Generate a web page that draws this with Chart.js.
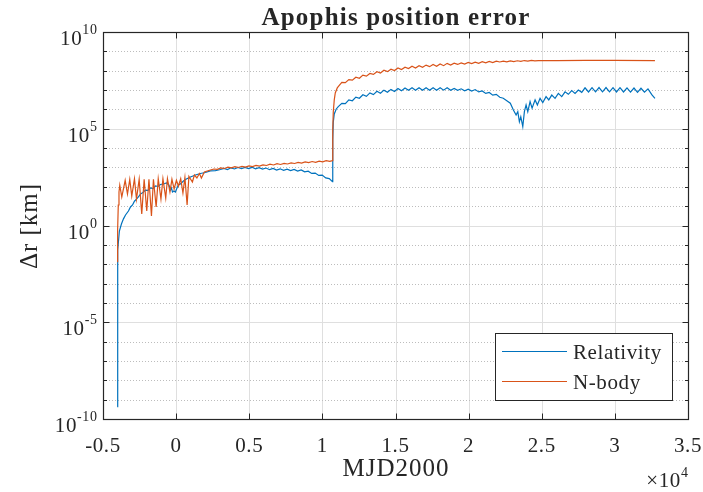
<!DOCTYPE html>
<html>
<head>
<meta charset="utf-8">
<title>Apophis position error</title>
<script src="https://cdn.jsdelivr.net/npm/chart.js@4.4.1/dist/chart.umd.min.js"></script>
<style>
    html, body { margin: 0; padding: 0; background: #fff; }
    #wrap { width: 703px; height: 492px; }
</style>
</head>
<body>
<div id="wrap"><canvas id="apophis-canvas" width="703" height="492"></canvas></div>
<script>
// propagation epochs (MJD2000) and position error [km], relativity model
const relMjd = [
    -4030, -4010, -3980, -3880, -3740, -3600, -3460, -3260, -3120, -2980,
    -2850, -2710, -2580, -2440, -2270, -2100, -1930, -1760, -1590, -1410,
    -1240, -1070, -870, -660, -490, -390, -320, -250, -150, -50,
    60, 160, 290, 500, 700, 980, 1320, 1660, 2000, 2340,
    2690, 3030, 3270, 3510, 3750, 3990, 4230, 4470, 4710, 4950,
    5190, 5430, 5670, 5910, 6150, 6390, 6630, 6870, 7110, 7350,
    7590, 7830, 8070, 8310, 8550, 8790, 9030, 9270, 9510, 9750,
    9990, 10230, 10470, 10690, 10710, 10745, 10813, 10950, 11087, 11330,
    11570, 11810, 12050, 12290, 12530, 12770, 13010, 13250, 13490, 13730,
    13970, 14210, 14450, 14690, 14930, 15170, 15410, 15650, 15890, 16130,
    16370, 16610, 16850, 17090, 17330, 17570, 17810, 18050, 18290, 18530,
    18770, 19010, 19250, 19490, 19730, 19970, 20210, 20450, 20690, 20930,
    21170, 21410, 21650, 21890, 22130, 22370, 22610, 22850, 23061, 23246,
    23362, 23471, 23567, 23703, 23813, 23929, 24045, 24202, 24339, 24544,
    24701, 24885, 25070, 25295, 25480, 25685, 25910, 26135, 26367, 26593,
    26819, 27051, 27276, 27502, 27734, 27959, 28198, 28438, 28677, 28916,
    29155, 29394, 29633, 29872, 30111, 30350, 30590, 30829, 31068, 31307,
    31546, 31785, 32024, 32263, 32536, 32740
]
const relErr = [
    4.4e-10, 1.4e-4, 5.4e-2, 0.52, 1.2, 2.2, 3.5, 5.6, 9.1, 11.5,
    18, 23, 30, 42, 51, 68, 65, 87, 81, 110,
    104, 131, 139, 157, 124, 68, 87, 54, 61, 54,
    87, 124, 139, 200, 253, 320, 405, 489, 550, 660,
    690, 780, 891, 785, 957, 834, 1002, 865, 1016, 865,
    1016, 853, 979, 815, 933, 767, 881, 731, 849, 706,
    809, 681, 782, 650, 745, 590, 638, 489, 509, 385,
    401, 289, 265, 184, 2.6e4, 2.2e5, 5.8e5, 1.05e6, 1.4e6, 2.07e6,
    1.97e6, 3.13e6, 2.79e6, 4.32e6, 3.76e6, 5.69e6, 4.73e6, 7.16e6, 5.82e6, 8.61e6,
    6.84e6, 9.89e6, 7.67e6, 1.08e7, 8.41e6, 1.19e7, 9.23e6, 1.27e7, 9.66e6, 1.30e7,
    9.66e6, 1.33e7, 9.89e6, 1.33e7, 9.89e6, 1.33e7, 9.89e6, 1.33e7, 9.89e6, 1.30e7,
    9.66e6, 1.22e7, 9.66e6, 1.16e7, 9.23e6, 1.11e7, 8.81e6, 1.06e7, 8.04e6, 9.02e6,
    6.68e6, 7.50e6, 5.43e6, 5.96e6, 4.22e6, 3.80e6, 2.82e6, 2.09e6, 9.33e5, 5.13e5,
    7.59e5, 2.29e5, 4.17e5, 1.29e5, 7.59e5, 1.70e6, 7.59e5, 2.51e6, 1.15e6, 3.09e6,
    1.70e6, 3.72e6, 2.24e6, 4.57e6, 3.09e6, 5.50e6, 3.72e6, 6.76e6, 4.57e6, 8.13e6,
    6.03e6, 9.33e6, 6.76e6, 1.0e7, 7.59e6, 1.30e7, 7.94e6, 1.32e7, 8.13e6, 1.35e7,
    8.13e6, 1.35e7, 8.13e6, 1.32e7, 7.94e6, 1.32e7, 7.94e6, 1.30e7, 7.76e6, 1.27e7,
    7.59e6, 1.24e7, 7.76e6, 1.15e7, 5.62e6, 3.72e6
]

// same for the N-body perturbation model
const nbMjd = [
    -4030, -4000, -3955, -3907, -3853, -3716, -3484, -3327, -3170, -3033,
    -2849, -2712, -2527, -2350, -2186, -2008, -1858, -1687, -1551, -1366,
    -1223, -1038, -902, -710, -594, -424, -287, -137, 20, 157,
    314, 465, 601, 751, 874, 1113, 1250, 1421, 1592, 1728,
    1933, 2343, 2580, 2820, 3060, 3300, 3540, 3780, 4020, 4260,
    4500, 4740, 4980, 5220, 5460, 5700, 5940, 6180, 6420, 6660,
    6900, 7140, 7380, 7620, 7860, 8100, 8340, 8580, 8820, 9060,
    9300, 9540, 9780, 10020, 10260, 10500, 10690, 10710, 10745, 10813,
    10882, 11018, 11155, 11330, 11570, 11810, 12050, 12290, 12530, 12770,
    13010, 13250, 13490, 13730, 13970, 14210, 14450, 14690, 14930, 15170,
    15410, 15650, 15890, 16130, 16370, 16610, 16850, 17090, 17330, 17570,
    17810, 18050, 18290, 18530, 18770, 19010, 19250, 19490, 19730, 19970,
    20210, 20450, 20690, 20930, 21170, 21410, 21650, 21890, 22130, 22370,
    22610, 22850, 23090, 23330, 23570, 23810, 24050, 24290, 24530, 24770,
    26000, 28000, 30000, 32740
]
const nbErr = [
    1.35e-2, 0.585, 11.5, 53.8, 120, 29.7, 217, 42.5, 244, 33.5,
    262, 23.4, 244, 3.93, 244, 5.61, 244, 3.10, 244, 9.04,
    262, 23.4, 262, 26.4, 262, 53.8, 244, 76.9, 217, 110,
    262, 47.9, 303, 11.5, 341, 177, 407, 285, 487, 285,
    582, 738, 830, 794, 946, 885, 1028, 951, 1091, 995,
    1146, 1045, 1199, 1109, 1274, 1178, 1368, 1265, 1469, 1340,
    1560, 1422, 1637, 1510, 1734, 1603, 1841, 1683, 1932, 1762,
    2028, 1849, 2123, 1941, 2254, 2061, 2234, 8.7e4, 7.4e5, 3.1e6,
    7.1e6, 1.29e7, 1.74e7, 2.51e7, 2.40e7, 3.47e7, 3.24e7, 4.57e7, 4.07e7, 5.89e7,
    5.25e7, 7.24e7, 6.46e7, 8.91e7, 7.59e7, 1.05e8, 8.91e7, 1.20e8, 1.02e8, 1.38e8,
    1.15e8, 1.51e8, 1.29e8, 1.70e8, 1.38e8, 1.82e8, 1.51e8, 1.95e8, 1.62e8, 2.09e8,
    1.70e8, 2.24e8, 1.82e8, 2.40e8, 1.95e8, 2.43e8, 2.11e8, 2.54e8, 2.21e8, 2.66e8,
    2.32e8, 2.79e8, 2.43e8, 2.92e8, 2.54e8, 3.05e8, 2.63e8, 3.13e8, 2.82e8, 3.13e8,
    2.88e8, 3.20e8, 2.95e8, 3.27e8, 3.02e8, 3.35e8, 3.13e8, 3.39e8, 3.24e8, 3.35e8,
    3.35e8, 3.39e8, 3.39e8, 3.35e8
]

const seriesNames = ['Relativity', 'N-body']
const seriesColors = ['#0072BD', '#D95319']

// axis ticks (x in units of 1e4 on the labels)
const xTicks = [-5000, 0, 5000, 10000, 15000, 20000, 25000, 30000, 35000]
const xTickText = ['-0.5', '0', '0.5', '1', '1.5', '2', '2.5', '3', '3.5']
const yDecades = [-10, -9, -8, -7, -6, -5, -4, -3, -2, -1, 0, 1, 2, 3, 4, 5, 6, 7, 8, 9, 10]
const yLabelled = [-10, -5, 0, 5, 10]

const FONT = '"Liberation Serif", "Times New Roman", serif'
const INK = '#262626'

function seg(ctx, x0, y0, x1, y1) {
    ctx.beginPath()
    ctx.moveTo(x0, y0)
    ctx.lineTo(x1, y1)
    ctx.stroke()
}

function spaced(ctx, px) {
    // canvas letterSpacing, not there in every browser
    if ('letterSpacing' in ctx) ctx.letterSpacing = px + 'px'
}

// matlab-like axes: grid, inward ticks, box, labels and legend
const matlabAxes = {
    id: 'matlabAxes',
    beforeDatasetsDraw(chart) {
        const {ctx, chartArea: a, scales: {x, y}} = chart
        ctx.save()
        ctx.lineWidth = 1
        ctx.strokeStyle = '#dfdfdf'
        xTicks.forEach(v => {
            const px = Math.round(x.getPixelForValue(v)) + 0.5
            seg(ctx, px, a.top, px, a.bottom)
        })
        yDecades.forEach(e => {
            const py = Math.round(y.getPixelForValue(Math.pow(10, e))) + 0.5
            if (yLabelled.includes(e)) {
                ctx.setLineDash([])
                ctx.strokeStyle = '#dfdfdf'
            } else {
                ctx.setLineDash([1, 2])
                ctx.strokeStyle = '#bdbdbd'
            }
            seg(ctx, a.left, py, a.right, py)
        })
        ctx.restore()
    },
    afterDatasetsDraw(chart) {
        const {ctx, chartArea: a, scales: {x, y}} = chart
        const L = Math.round(a.left) + 0.5, R = Math.round(a.right) + 0.5
        const T = Math.round(a.top) + 0.5, B = Math.round(a.bottom) + 0.5
        ctx.save()
        ctx.strokeStyle = INK
        ctx.fillStyle = INK
        ctx.lineWidth = 1

        // ticks
        xTicks.forEach(v => {
            const px = Math.round(x.getPixelForValue(v)) + 0.5
            seg(ctx, px, B, px, B - 6)
            seg(ctx, px, T, px, T + 6)
        })
        yDecades.forEach(e => {
            const py = Math.round(y.getPixelForValue(Math.pow(10, e))) + 0.5
            const len = yLabelled.includes(e) ? 6 : 3.5
            seg(ctx, L, py, L + len, py)
            seg(ctx, R, py, R - len, py)
        })
        ctx.lineWidth = 1.2
        ctx.strokeRect(L, T, R - L, B - T)

        // tick labels
        spaced(ctx, 0.6)
        ctx.textBaseline = 'alphabetic'
        ctx.textAlign = 'center'
        ctx.font = `21px ${FONT}`
        xTicks.forEach((v, i) => {
            ctx.fillText(xTickText[i], x.getPixelForValue(v), B + 32)
        })
        yLabelled.forEach(e => {
            const py = y.getPixelForValue(Math.pow(10, e))
            ctx.font = `21px ${FONT}`
            const wb = ctx.measureText('10').width
            ctx.font = `14px ${FONT}`
            const ws = ctx.measureText(String(e)).width
            const right = L - 6
            ctx.textAlign = 'left'
            ctx.font = `21px ${FONT}`
            ctx.fillText('10', right - ws - wb, py + 13)
            ctx.font = `14px ${FONT}`
            ctx.fillText(String(e), right - ws, py + 2)
        })

        // x exponent
        ctx.font = `14px ${FONT}`
        const w4 = ctx.measureText('4').width
        ctx.fillText('4', R - w4, 477)
        ctx.font = `21px ${FONT}`
        ctx.textAlign = 'right'
        ctx.fillText('\u00d710', R - w4, 487)

        // axis titles
        spaced(ctx, 1)
        ctx.textAlign = 'center'
        ctx.font = `25px ${FONT}`
        ctx.fillText('MJD2000', (L + R) / 2, 476)
        ctx.save()
        ctx.translate(37, (T + B) / 2)
        ctx.rotate(-Math.PI / 2)
        ctx.fillText('\u0394r [km]', 0, 0)
        ctx.restore()
        spaced(ctx, 1.2)
        ctx.font = `bold 25px ${FONT}`
        ctx.fillText('Apophis position error', (L + R) / 2, 25)

        // legend
        const bx = 495.5, by = 333.5, bw = 177, bh = 67
        ctx.fillStyle = '#fff'
        ctx.fillRect(bx, by, bw, bh)
        ctx.strokeStyle = INK
        ctx.lineWidth = 1
        ctx.strokeRect(bx, by, bw, bh)
        spaced(ctx, 0.6)
        ctx.font = `21px ${FONT}`
        ctx.textAlign = 'left'
        seriesNames.forEach((name, i) => {
            const ly = 351.5 + i * 30
            ctx.strokeStyle = seriesColors[i]
            ctx.lineWidth = 1.2
            seg(ctx, 502, ly, 567, ly)
            ctx.fillStyle = INK
            ctx.fillText(name, 573, ly + 7)
        })
        ctx.restore()
    }
}

const canvas = document.querySelector('#apophis-canvas')

const apophisChart = new Chart(canvas, {
    type: 'scatter',
    data: {
        datasets: [
            {
                label: seriesNames[0],
                data: relMjd.map((t, i) => ({x: t, y: relErr[i]})),
                borderColor: seriesColors[0],
                order: 1
            },
            {
                label: seriesNames[1],
                data: nbMjd.map((t, i) => ({x: t, y: nbErr[i]})),
                borderColor: seriesColors[1],
                order: 0
            }
        ]
    },
    options: {
        responsive: false,
        animation: false,
        showLine: true,
        layout: {padding: {top: 32, right: 15, bottom: 0, left: 0}},
        elements: {
            point: {radius: 0, hoverRadius: 0},
            line: {borderWidth: 1.2, tension: 0}
        },
        scales: {
            x: {
                type: 'linear',
                min: -5000,
                max: 35000,
                ticks: {display: false},
                grid: {display: false},
                border: {display: false},
                afterFit(scale) { scale.height = 73 }
            },
            y: {
                type: 'logarithmic',
                min: 1e-10,
                max: 1e10,
                ticks: {display: false},
                grid: {display: false},
                border: {display: false},
                afterFit(scale) { scale.width = 103 }
            }
        },
        plugins: {
            legend: {display: false},
            tooltip: {enabled: false}
        }
    },
    plugins: [matlabAxes]
})
</script>
</body>
</html>
